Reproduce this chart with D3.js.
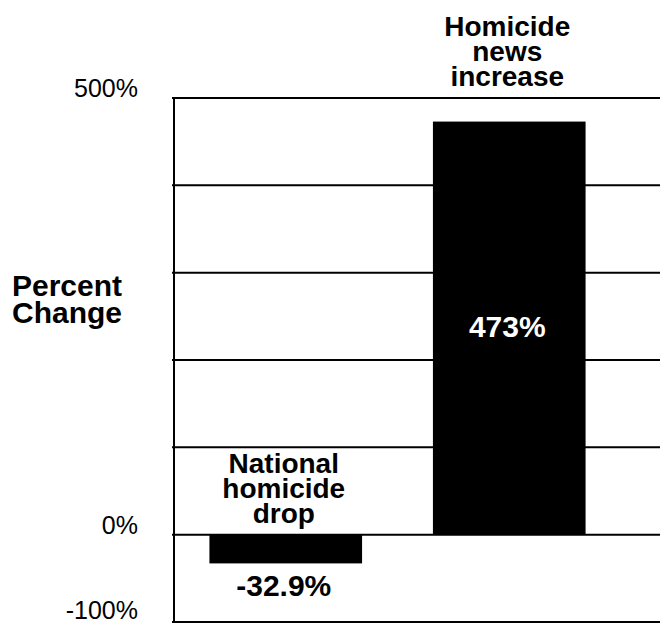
<!DOCTYPE html>
<html>
<head>
<meta charset="utf-8">
<script src="https://cdn.jsdelivr.net/npm/d3@7"></script>
<style>
  html, body { margin: 0; padding: 0; background: #fff; }
  svg { display: block; }
  text { font-family: "Liberation Sans", Arial, Helvetica, sans-serif; fill: #000; }
</style>
</head>
<body>
<svg id="chart" width="660" height="623"></svg>
<script>
// ---- data ----
const categories = ["National homicide drop", "Homicide news increase"];
const values = [-32.9, 473];
const valueLabels = ["-32.9%", "473%"];
const categoryLines = [["National", "homicide", "drop"], ["Homicide", "news", "increase"]];
const tickValues = [-100, 0, 100, 200, 300, 400, 500];
const tickLabels = {"-100": "-100%", "0": "0%", "500": "500%"};
const axisTitle = ["Percent", "Change"];

// ---- layout ----
const svg = d3.select("#chart");
const plotLeft = 174, plotRight = 660;

const y = d3.scaleLinear().domain([-100, 500]).range([622, 98]);
const x = d3.scaleBand().domain(categories).range([174, 621]).paddingInner(0.317).paddingOuter(0.1585);

// gridlines
svg.append("g").selectAll("line").data(tickValues).join("line")
  .attr("x1", plotLeft - 2).attr("x2", plotRight)
  .attr("y1", d => y(d)).attr("y2", d => y(d))
  .attr("stroke", "#000").attr("stroke-width", 2);

// y axis line
svg.append("line")
  .attr("x1", plotLeft).attr("x2", plotLeft)
  .attr("y1", y(500) - 1).attr("y2", y(-100) + 1)
  .attr("stroke", "#000").attr("stroke-width", 2);

// tick labels
svg.append("g").selectAll("text").data(tickValues.filter(d => tickLabels[d] !== undefined)).join("text")
  .attr("x", 138).attr("y", d => d === -100 ? y(d) - 3 : y(d) - 1)
  .attr("text-anchor", "end")
  .style("font-size", "25px")
  .text(d => tickLabels[d]);

// axis title (one text, two lines)
const title = svg.append("text")
  .attr("x", 12).attr("y", 296)
  .style("font-size", "30px").style("font-weight", "bold");
title.selectAll("tspan").data(axisTitle).join("tspan")
  .attr("x", 12).attr("dy", (d, i) => i === 0 ? 0 : 27)
  .text(d => d);

// bars
svg.append("g").selectAll("rect").data(categories).join("rect")
  .attr("x", d => x(d))
  .attr("width", x.bandwidth())
  .attr("y", (d, i) => y(Math.max(0, values[i])))
  .attr("height", (d, i) => Math.abs(y(values[i]) - y(0)))
  .attr("fill", "#000");

// category labels (one text each, stacked lines)
const catG = svg.append("g");
categories.forEach((c, i) => {
  const cx = x(c) + x.bandwidth() / 2 - 2;
  const lines = categoryLines[i];
  const baseY = values[i] >= 0 ? 36 : y(0) - 11 - (lines.length - 1) * 25.5;
  const t = catG.append("text")
    .attr("x", cx).attr("y", baseY)
    .attr("text-anchor", "middle")
    .style("font-size", "28px").style("font-weight", "bold");
  t.selectAll("tspan").data(lines).join("tspan")
    .attr("x", cx).attr("dy", (d, j) => j === 0 ? 0 : 25)
    .text(d => d);
});

// value labels
svg.append("g").selectAll("text").data(categories).join("text")
  .attr("x", d => x(d) + x.bandwidth() / 2 - 2)
  .attr("y", (d, i) => values[i] >= 0 ? y(values[i] / 2) + 9 : y(values[i]) + 33)
  .attr("text-anchor", "middle")
  .style("font-size", "30px").style("font-weight", "bold")
  .style("fill", (d, i) => values[i] >= 0 ? "#fff" : "#000")
  .text((d, i) => valueLabels[i]);
</script>
</body>
</html>
